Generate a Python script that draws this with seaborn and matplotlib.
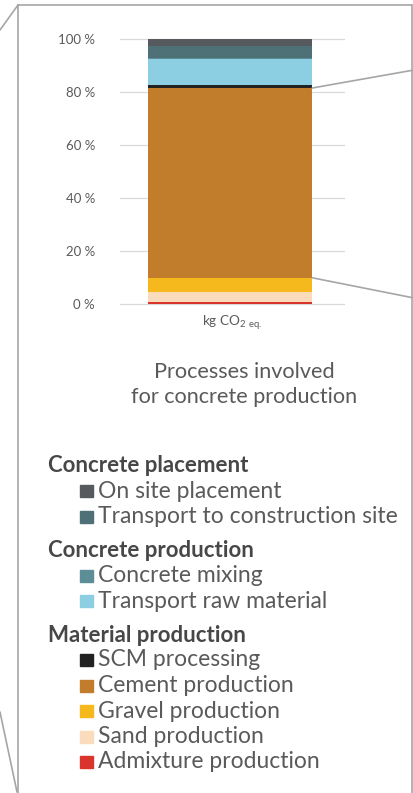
import matplotlib
matplotlib.use("Agg")
import matplotlib.pyplot as plt
from matplotlib.patches import Rectangle, ConnectionPatch
from matplotlib.lines import Line2D
import seaborn as sns
import pandas as pd
import numpy as np

# ---- data (bottom to top of the stacked bar) ----
processes = ["Admixture production", "Sand production", "Gravel production",
             "Cement production", "SCM processing", "Transport raw material",
             "Concrete mixing", "Transport to construction site", "On site placement"]
shares = [0.6, 4.0, 5.3, 71.6, 1.1, 9.8, 0.3, 4.6, 2.7]
colors = ["#d9352c", "#fadcbc", "#f6b91d", "#c17d2b", "#222222", "#8ccfe2",
          "#5d8e97", "#4e7077", "#56595d"]
yticks = [0, 20, 40, 60, 80, 100]
ytick_labels = ["0 %", "20 %", "40 %", "60 %", "80 %", "100 %"]
category = "kg CO$_{\\mathregular{2\\ eq.}}$"
title_lines = ["Processes involved", "for concrete production"]
legend_groups = [
    ("Concrete placement", ["On site placement", "Transport to construction site"]),
    ("Concrete production", ["Concrete mixing", "Transport raw material"]),
    ("Material production", ["SCM processing", "Cement production", "Gravel production",
                             "Sand production", "Admixture production"]),
]

sns.set_theme(style="white")
plt.rcParams["font.family"] = ["Lato", "DejaVu Sans"]
TXT = "#5a5a5a"

W, H = 414, 793
fig = plt.figure(figsize=(W / 100, H / 100), dpi=100)

def fx(x):
    return x / W

def fy(y):
    return 1 - y / H

# axes: 0% at y=304, 100% at y=39 -> 2.65 px per %
ppu = 2.65
y0pix, ylo, yhi = 304, -1.5, 101.5
ax_bottom = y0pix - ylo * ppu
ax_top = y0pix - yhi * ppu
ax = fig.add_axes([fx(120), fy(ax_bottom), fx(345) - fx(120), (ax_bottom - ax_top) / H])

df = pd.DataFrame({"process": processes, "share": shares, "color": colors})
df["top"] = df["share"].cumsum()
df["bottom"] = df["top"] - df["share"]
df["x"] = "kg"
# draw from top to bottom so each shorter bar overlays
for _, row in df.iloc[::-1].iterrows():
    sns.barplot(data=pd.DataFrame({"x": [row["x"]], "top": [row["top"]]}),
                x="x", y="top", color=row["color"], width=0.73,
                saturation=1, ax=ax, zorder=3, linewidth=0)

ax.set_ylim(ylo, yhi)
ax.set_xlim(-0.489, 0.511)
ax.set_yticks(yticks)
ax.set_yticklabels(ytick_labels, fontsize=9.5, color=TXT)
ax.tick_params(axis="y", length=0, pad=18)
ax.set_xticks([])
ax.set_xlabel("")
ax.set_ylabel("")
for y in yticks:
    ax.axhline(y, color="#d9d9d9", lw=0.9, zorder=1)
for s in ax.spines.values():
    s.set_visible(False)

fig.text(fx(232), fy(322), category, ha="center", va="center", fontsize=9.8, color=TXT)
for i, t in enumerate(title_lines):
    fig.text(fx(244), fy(372 + 25 * i), t, ha="center", va="center", fontsize=15.6, color=TXT)

# legend drawn manually
col_map = dict(zip(processes, colors))
y = 466
for head, items in legend_groups:
    fig.text(fx(48), fy(y), head, ha="left", va="center", fontsize=16,
             fontweight="bold", color="#474747")
    y += 25
    for k, it in enumerate(items):
        fig.patches.append(Rectangle((fx(80), fy(y + 6)), fx(13), 12 / H,
                                     transform=fig.transFigure, color=col_map[it]))
        fig.text(fx(98), fy(y), it, ha="left", va="center", fontsize=16.5, color=TXT)
        if k < len(items) - 1:
            y += 25.5
    y += 34

# frame and connector lines
lc = "#a6a6a6"
for (x1, y1, x2, y2) in [(18, 5, 18, 793), (18, 5, 412, 5), (412, 5, 412, 793),
                          (0, 30, 18, 5), (0, 712, 17, 792)]:
    fig.add_artist(Line2D([fx(x1), fx(x2)], [fy(y1), fy(y2)], color=lc, lw=1.2,
                          transform=fig.transFigure))

cement = df[df["process"] == "Cement production"].iloc[0]
bar_right = 0.73 / 2
for yv, ypix in [(cement["top"], 70), (cement["bottom"], 298)]:
    cp = ConnectionPatch(xyA=(bar_right, yv), coordsA=ax.transData,
                         xyB=(fx(414), fy(ypix)), coordsB=fig.transFigure,
                         color=lc, lw=1.2)
    fig.add_artist(cp)

fig.savefig("out.png", dpi=100)
